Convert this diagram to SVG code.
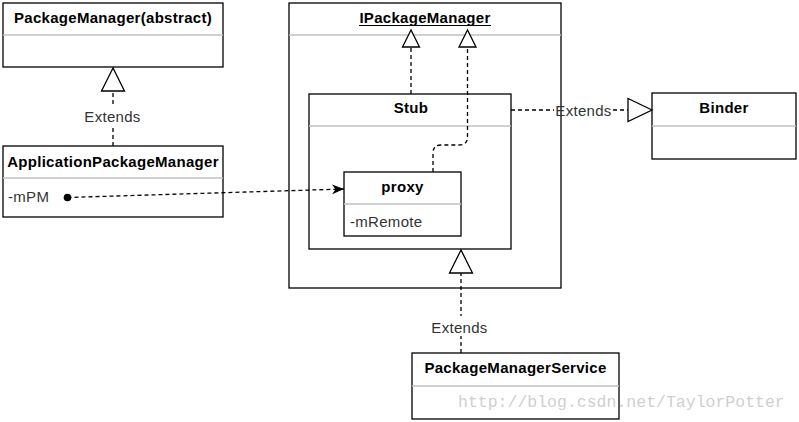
<svg xmlns="http://www.w3.org/2000/svg" width="799" height="422" viewBox="0 0 799 422">
<style>
.box{fill:#fff;stroke:#000;stroke-width:1.3}
.sep{stroke:#c0c0c0;stroke-width:1.3}
.title{font-family:"Liberation Sans",Arial,sans-serif;font-size:15px;font-weight:bold;fill:#000;text-anchor:middle;letter-spacing:0.3px}
.attr{font-family:"Liberation Sans",Arial,sans-serif;font-size:15px;fill:#333;letter-spacing:0.3px}
.lbl{font-family:"Liberation Sans",Arial,sans-serif;font-size:15px;fill:#333;text-anchor:middle;letter-spacing:0.3px}
.dash{fill:none;stroke:#000;stroke-width:1.3;stroke-dasharray:4 3}
.tri{fill:#fff;stroke:#000;stroke-width:1.3}
.wm{font-family:"Liberation Mono","DejaVu Sans Mono",monospace;font-size:16.5px;fill:#cfcfcf}
</style>
<defs>
<marker id="arr" viewBox="0 0 12 12" refX="12" refY="6" markerWidth="12" markerHeight="12" markerUnits="userSpaceOnUse" orient="auto">
<path d="M0,1 L12,6 L0,11 L3.5,6 Z" fill="#000"/>
</marker>
</defs>

<g id="IPackageManager">
<rect class="box" x="289" y="3" width="272" height="285"/>
<line class="sep" x1="289" y1="35" x2="561" y2="35"/>
<text class="title" x="425" y="23">IPackageManager</text>
<line x1="359" y1="25.5" x2="491" y2="25.5" stroke="#000" stroke-width="1.2"/>
</g>

<g id="Stub">
<rect class="box" x="309" y="94" width="202" height="155"/>
<line class="sep" x1="309" y1="126" x2="511" y2="126"/>
<text class="title" x="411" y="113">Stub</text>
</g>

<g id="proxy">
<rect class="box" x="344" y="172" width="117" height="64"/>
<line class="sep" x1="344" y1="204" x2="461" y2="204"/>
<text class="title" x="402.5" y="192">proxy</text>
<text class="attr" x="350" y="227">-mRemote</text>
</g>

<g id="PackageManager">
<rect class="box" x="3" y="3" width="220" height="64"/>
<line class="sep" x1="3" y1="35" x2="223" y2="35"/>
<text class="title" x="113" y="23">PackageManager(abstract)</text>
</g>

<g id="ApplicationPackageManager">
<rect class="box" x="3" y="146" width="220" height="71"/>
<line class="sep" x1="3" y1="178" x2="223" y2="178"/>
<text class="title" x="113" y="167">ApplicationPackageManager</text>
<text class="attr" x="8" y="202">-mPM</text>
</g>

<g id="Binder">
<rect class="box" x="652" y="93" width="144" height="66"/>
<line class="sep" x1="652" y1="126" x2="796" y2="126"/>
<text class="title" x="724" y="113">Binder</text>
</g>

<g id="PackageManagerService">
<rect class="box" x="412" y="353" width="207" height="66"/>
<line class="sep" x1="412" y1="386" x2="619" y2="386"/>
<text class="title" x="515.5" y="373">PackageManagerService</text>
</g>

<g id="connectors">
<!-- ApplicationPackageManager extends PackageManager -->
<path class="dash" d="M113,146 V91"/>
<polygon class="tri" points="113,68 101.5,91 124.5,91"/>
<rect x="82" y="105" width="62" height="20" fill="#fff"/>
<text class="lbl" x="112.5" y="122">Extends</text>

<!-- Stub to IPackageManager -->
<path class="dash" d="M411,94 V47"/>
<polygon class="tri" points="411,30 402.5,47 419.5,47"/>

<!-- proxy to IPackageManager -->
<path class="dash" d="M433,172 V153 Q433,145 441,145 H459 Q467.5,145 467.5,137 V47"/>
<polygon class="tri" points="467.5,30 459,47 476,47"/>

<!-- Stub extends Binder -->
<path class="dash" d="M511,110 H554 M613,110 H628"/>
<text class="lbl" x="583.5" y="116">Extends</text>
<polygon class="tri" points="652,110 628,98.5 628,121.5"/>

<!-- PackageManagerService extends IPackageManager -->
<path class="dash" d="M461,353 V273"/>
<polygon class="tri" points="461,250 449.5,273 472.5,273"/>
<rect x="429" y="316" width="62" height="20" fill="#fff"/>
<text class="lbl" x="459.5" y="333">Extends</text>

<!-- mPM to proxy -->
<circle cx="67.5" cy="197.5" r="3.8" fill="#000"/>
<path class="dash" d="M67.5,197.5 L344,189" marker-end="url(#arr)"/>
</g>

<text class="wm" x="458" y="407">http://blog.csdn.net/TaylorPotter</text>
</svg>
